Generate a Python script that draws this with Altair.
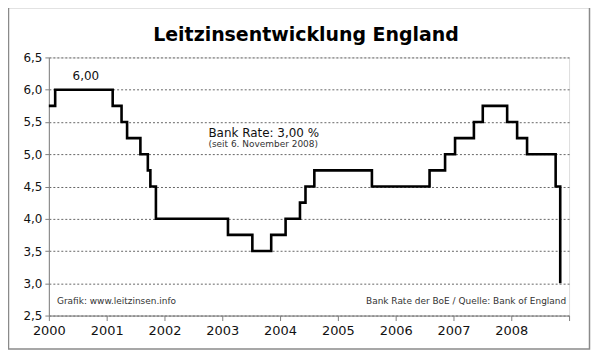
import altair as alt
import pandas as pd
from datetime import date

# Bank of England Bank Rate changes (date, rate in %)
change_dates = [
    "2000-01-01", "2000-02-10", "2001-02-08", "2001-04-05", "2001-05-10",
    "2001-08-02", "2001-09-18", "2001-10-04", "2001-11-08", "2003-02-06",
    "2003-07-10", "2003-11-06", "2004-02-05", "2004-05-06", "2004-06-10",
    "2004-08-05", "2005-08-04", "2006-08-03", "2006-11-09", "2007-01-11",
    "2007-05-10", "2007-07-05", "2007-12-06", "2008-02-07", "2008-04-10",
    "2008-10-08", "2008-11-06",
]
rates = [
    5.75, 6.00, 5.75, 5.50, 5.25,
    5.00, 4.75, 4.50, 4.00, 3.75,
    3.50, 3.75, 4.00, 4.25, 4.50,
    4.75, 4.50, 4.75, 5.00, 5.25,
    5.50, 5.75, 5.50, 5.25, 5.00,
    4.50, 3.00,
]
year_ticks = [2000, 2001, 2002, 2003, 2004, 2005, 2006, 2007, 2008, 2009]
rate_ticks = [2.5, 3.0, 3.5, 4.0, 4.5, 5.0, 5.5, 6.0, 6.5]
title_text = "Leitzinsentwicklung England"


def dec_year(s):
    d = date.fromisoformat(s)
    start = date(d.year, 1, 1)
    days = (date(d.year + 1, 1, 1) - start).days
    return d.year + (d - start).days / days


df = pd.DataFrame({"t": [dec_year(s) for s in change_dates], "rate": rates})

FONT = "DejaVu Sans"
W, H = 522, 259

xscale = alt.Scale(domain=[2000, 2009], nice=False, zero=False)
yscale = alt.Scale(domain=[2.5, 6.5], nice=False, zero=False)

line = alt.Chart(df).mark_line(
    interpolate="step-after", color="black", strokeWidth=2.6, strokeJoin="miter"
).encode(
    x=alt.X("t:Q", scale=xscale, title=None,
            axis=alt.Axis(values=year_ticks, format="d", grid=False, tickCount=30,
                          labelExpr="datum.value == 2009 ? '' : datum.label",
                          labelFlush=False, labelOverlap=False,
                          domainColor="#808080", tickColor="#808080",
                          tickSize=5, labelFontSize=13, labelPadding=4,
                          labelColor="#111", labelFont=FONT)),
    y=alt.Y("rate:Q", scale=yscale, title=None,
            axis=alt.Axis(values=rate_ticks, grid=True, gridDash=[2, 2], tickCount=30,
                          gridColor="#666", gridWidth=1,
                          labelFlush=False, labelOverlap=False,
                          labelExpr="replace(format(datum.value, '.1f'), '.', ',')",
                          domainColor="#808080", tickColor="#808080",
                          tickSize=4, labelFontSize=12, labelPadding=3,
                          labelColor="#111", labelFont=FONT)),
)

ann = pd.DataFrame({
    "t": [2000.64, 2002.76, 2002.76],
    "rate": [6.21, 5.33, 5.16],
    "txt": ["6,00", "Bank Rate: 3,00 %", "(seit 6. November 2008)"],
})

t1 = alt.Chart(ann.iloc[[0]]).mark_text(font=FONT, fontSize=12, align="center",
                                         baseline="middle", color="#111").encode(
    x=alt.X("t:Q", scale=xscale), y=alt.Y("rate:Q", scale=yscale), text="txt:N")
t2 = alt.Chart(ann.iloc[[1]]).mark_text(font=FONT, fontSize=12, align="left",
                                         baseline="middle", color="#111").encode(
    x=alt.X("t:Q", scale=xscale), y=alt.Y("rate:Q", scale=yscale), text="txt:N")
t3 = alt.Chart(ann.iloc[[2]]).mark_text(font=FONT, fontSize=9, align="left",
                                         baseline="middle", color="#333").encode(
    x=alt.X("t:Q", scale=xscale), y=alt.Y("rate:Q", scale=yscale), text="txt:N")

src = pd.DataFrame({
    "t": [2000.14, 2008.95],
    "rate": [2.72, 2.72],
    "txt": ["Grafik: www.leitzinsen.info", "Bank Rate der BoE / Quelle: Bank of England"],
})
s1 = alt.Chart(src.iloc[[0]]).mark_text(font=FONT, fontSize=9, align="left",
                                         baseline="middle", color="#333").encode(
    x=alt.X("t:Q", scale=xscale), y=alt.Y("rate:Q", scale=yscale), text="txt:N")
s2 = alt.Chart(src.iloc[[1]]).mark_text(font=FONT, fontSize=9, align="right",
                                         baseline="middle", color="#333").encode(
    x=alt.X("t:Q", scale=xscale), y=alt.Y("rate:Q", scale=yscale), text="txt:N")

title = alt.Chart(pd.DataFrame({"txt": [title_text]})).mark_text(
    font=FONT, fontSize=19, fontWeight="bold", align="center",
    baseline="alphabetic", color="#000", clip=False
).encode(x=alt.value(258), y=alt.value(-16), text="txt:N")

frame = alt.Chart(pd.DataFrame({"a": [0]})).mark_rect(
    fill=None, fillOpacity=0, stroke="#8a8a8a", strokeWidth=1.5, clip=False
).encode(
    x=alt.value(-40.5), x2=alt.value(542.5),
    y=alt.value(-50), y2=alt.value(292.5),
)

chart = alt.layer(frame, title, line, t1, t2, t3, s1, s2).properties(
    width=W, height=H,
    autosize=alt.AutoSizeParams(type="none"),
    padding={"left": 41, "top": 49, "right": 22, "bottom": 44},
).configure_view(stroke=None).configure(background="white")

chart.save("out.html", embed_options={"renderer": "svg", "actions": False})
